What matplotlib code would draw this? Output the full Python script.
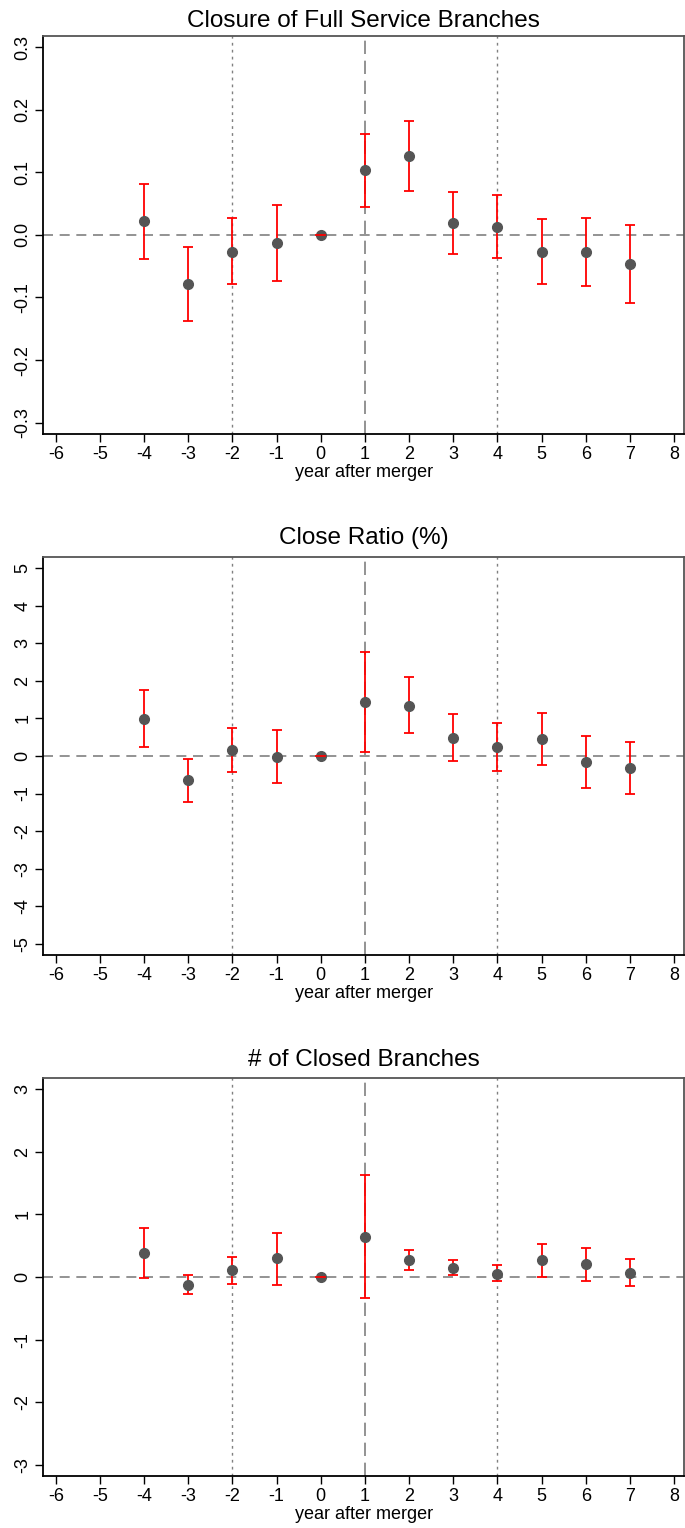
import matplotlib
matplotlib.use("Agg")
import matplotlib.pyplot as plt
import numpy as np

plt.rcParams['font.family'] = ['Liberation Sans', 'DejaVu Sans']

years = [-4, -3, -2, -1, 0, 1, 2, 3, 4, 5, 6, 7]

titles = ["Closure of Full Service Branches", "Close Ratio (%)", "# of Closed Branches"]

full_coef = [0.022, -0.078, -0.027, -0.013, 0.0, 0.103, 0.126, 0.019, 0.013, -0.027, -0.028, -0.046]
full_hi = [0.082, -0.019, 0.027, 0.047, 0.0, 0.161, 0.182, 0.068, 0.063, 0.026, 0.027, 0.016]
full_lo = [-0.038, -0.137, -0.079, -0.074, 0.0, 0.045, 0.070, -0.030, -0.037, -0.079, -0.082, -0.109]

ratio_coef = [0.98, -0.64, 0.17, -0.02, 0.0, 1.43, 1.34, 0.48, 0.24, 0.45, -0.16, -0.32]
ratio_hi = [1.75, -0.07, 0.75, 0.68, 0.0, 2.77, 2.09, 1.11, 0.88, 1.14, 0.54, 0.36]
ratio_lo = [0.24, -1.22, -0.42, -0.71, 0.0, 0.10, 0.60, -0.14, -0.39, -0.23, -0.85, -1.00]

num_coef = [0.38, -0.12, 0.11, 0.30, 0.0, 0.64, 0.27, 0.15, 0.05, 0.27, 0.21, 0.07]
num_hi = [0.78, 0.03, 0.32, 0.71, 0.0, 1.63, 0.43, 0.28, 0.19, 0.53, 0.47, 0.29]
num_lo = [-0.01, -0.27, -0.11, -0.12, 0.0, -0.34, 0.11, 0.04, -0.07, 0.0, -0.06, -0.15]

xticks = list(range(-6, 9))
yticks_full = [-0.3, -0.2, -0.1, 0.0, 0.1, 0.2, 0.3]
ytick_labels_full = ["-0.3", "-0.2", "-0.1", "0.0", "0.1", "0.2", "0.3"]
yticks_ratio = [-5, -4, -3, -2, -1, 0, 1, 2, 3, 4, 5]
yticks_num = [-3, -2, -1, 0, 1, 2, 3]

panels = [
    (full_coef, full_lo, full_hi, yticks_full, ytick_labels_full, 0.318),
    (ratio_coef, ratio_lo, ratio_hi, yticks_ratio, [str(v) for v in yticks_ratio], 5.3),
    (num_coef, num_lo, num_hi, yticks_num, [str(v) for v in yticks_num], 3.18),
]

fig = plt.figure(figsize=(6.85, 15.28), dpi=100)
positions = [(0.0628, 0.716, 0.936, 0.2606),
             (0.0628, 0.375, 0.936, 0.2605),
             (0.0628, 0.034, 0.936, 0.2605)]
title_pads = [6, 9, 9]

for i, (coef, lo, hi, yt, ytl, ylim) in enumerate(panels):
    ax = fig.add_axes(positions[i])
    coef = np.array(coef); lo = np.array(lo); hi = np.array(hi)
    ax.axhline(0, color='#808080', linestyle=(0, (6, 4)), linewidth=1.2, zorder=1)
    ax.axvline(1, color='#808080', linestyle=(0, (8, 4)), linewidth=1.2, zorder=1)
    for xv in (-2, 4):
        ax.axvline(xv, color='#808080', linestyle=(0, (2, 3)), linewidth=1.0, zorder=1)
    ax.errorbar(years, coef, yerr=[coef - lo, hi - coef], fmt='none',
                ecolor='#ff0000', elinewidth=1.3, capsize=3.5, capthick=1.3, zorder=2)
    ax.plot(years, coef, 'o', color='#555555', markersize=7, zorder=3)
    ax.plot([0 - 0.1, 0 + 0.1], [0, 0], color='#ff0000', linewidth=1.3, zorder=4)
    ax.set_xlim(-6.29, 8.23)
    ax.set_ylim(-ylim, ylim)
    ax.set_xticks(xticks)
    ax.set_xticklabels([str(v) for v in xticks], fontsize=13)
    ax.set_yticks(yt)
    ax.set_yticklabels(ytl, fontsize=13, rotation=90, va='center')
    ax.tick_params(axis='both', direction='out', length=5.5, width=1, color='black', pad=3)
    ax.set_xlabel("year after merger", fontsize=13, labelpad=1)
    ax.set_title(titles[i], fontsize=17.5, pad=title_pads[i])
    for s in ('left', 'bottom'):
        ax.spines[s].set_color('black')
        ax.spines[s].set_linewidth(1.3)
    for s in ('top', 'right'):
        ax.spines[s].set_color('#555555')
        ax.spines[s].set_linewidth(1.3)

fig.savefig("out.png", dpi=100)
